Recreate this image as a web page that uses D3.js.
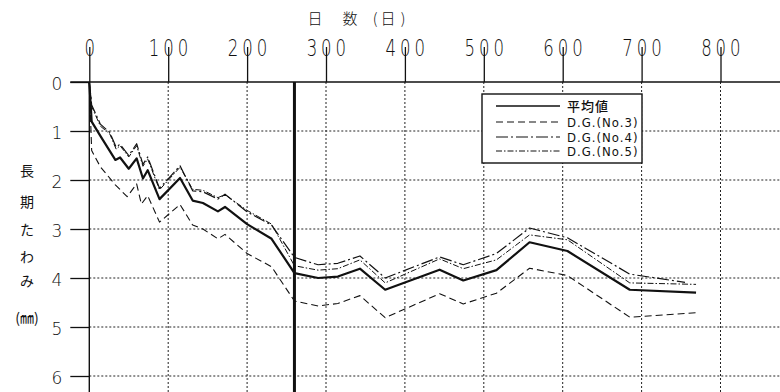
<!DOCTYPE html>
<html>
<head>
<meta charset="utf-8">
<script src="https://cdn.jsdelivr.net/npm/d3@7"></script>
<style>
  html, body { margin: 0; padding: 0; background: #fff; }
  svg { display: block; }
  .num { font-family: "DejaVu Sans", sans-serif; font-weight: 200; fill: #111; }
  .leg { font-family: "DejaVu Sans Condensed", "DejaVu Sans", sans-serif; font-stretch: condensed; fill: #111; }
  .jp { font-family: "Noto Sans CJK JP", "Noto Sans CJK SC", sans-serif; fill: #111; }
</style>
</head>
<body>
<div id="chart"></div>
<script>
// Tick values
const xTicks = [0, 100, 200, 300, 400, 500, 600, 700, 800];
const yTicks = [0, 1, 2, 3, 4, 5, 6];
const markerDay = 260; // thick vertical reference line

// Mean (平均値)
const meanDays = [0, 3, 14, 33, 39, 50, 60, 68, 74, 89, 115, 131, 144, 163, 172, 200, 231, 260, 290, 315, 343, 375, 444, 474, 516, 558, 606, 685, 769];
const meanVals = [0, 0.81, 1.1, 1.59, 1.54, 1.77, 1.56, 1.97, 1.8, 2.39, 1.96, 2.42, 2.47, 2.64, 2.55, 2.9, 3.2, 3.9, 4.0, 3.97, 3.81, 4.24, 3.83, 4.05, 3.84, 3.27, 3.45, 4.24, 4.3];

// D.G.(No.3)
const no3Days = [0, 3, 14, 33, 48, 60, 66, 74, 89, 115, 131, 144, 163, 172, 200, 231, 260, 290, 315, 343, 375, 444, 474, 516, 558, 606, 685, 769];
const no3Vals = [0, 1.4, 1.73, 2.1, 2.34, 2.08, 2.49, 2.32, 2.86, 2.5, 2.92, 3.0, 3.2, 3.11, 3.5, 3.77, 4.47, 4.57, 4.52, 4.36, 4.81, 4.32, 4.53, 4.31, 3.8, 3.95, 4.8, 4.71];

// D.G.(No.4)
const no4Days = [0, 3, 14, 26, 34, 39, 50, 60, 68, 74, 89, 115, 131, 144, 163, 172, 200, 231, 260, 290, 315, 343, 375, 444, 474, 516, 558, 606, 685, 755];
const no4Vals = [0, 0.47, 0.86, 1.03, 1.33, 1.27, 1.5, 1.26, 1.68, 1.53, 2.17, 1.71, 2.22, 2.24, 2.39, 2.29, 2.65, 2.92, 3.58, 3.73, 3.7, 3.55, 4.0, 3.57, 3.73, 3.5, 2.98, 3.18, 3.92, 4.09];

// D.G.(No.5)
const no5Days = [0, 3, 14, 26, 34, 39, 50, 60, 68, 74, 89, 115, 131, 144, 163, 172, 200, 231, 260, 290, 315, 343, 375, 444, 474, 516, 558, 606, 685, 769];
const no5Vals = [0, 0.5, 0.9, 1.06, 1.37, 1.3, 1.53, 1.3, 1.72, 1.57, 2.2, 1.74, 2.19, 2.21, 2.36, 2.3, 2.62, 2.9, 3.75, 3.84, 3.81, 3.63, 4.1, 3.61, 3.81, 3.63, 3.12, 3.22, 4.1, 4.13];

const series = [
  { name: "平均値", days: meanDays, vals: meanVals, width: 2.2, dash: null },
  { name: "D.G.(No.3)", days: no3Days, vals: no3Vals, width: 1.1, dash: "7,4" },
  { name: "D.G.(No.4)", days: no4Days, vals: no4Vals, width: 1.2, dash: "12,3,2,3" },
  { name: "D.G.(No.5)", days: no5Days, vals: no5Vals, width: 1.0, dash: "6,2,1.5,2" }
];

const width = 780, height = 392;
const svg = d3.select("#chart").append("svg")
  .attr("width", width)
  .attr("height", height);

// Scales (y grows downward: deflection)
const x = d3.scaleLinear().domain([0, 800]).range([89.3, 720.5]);
const y = d3.scaleLinear().domain([0, 6]).range([82, 376]);
const plotRight = 780, plotBottom = 392;

// Dotted grid
const grid = svg.append("g");
grid.selectAll("line.vg")
  .data(xTicks.filter(d => d > 0))
  .enter().append("line")
  .attr("x1", d => x(d)).attr("x2", d => x(d))
  .attr("y1", y(0)).attr("y2", plotBottom)
  .attr("stroke", "#222").attr("stroke-width", 1)
  .attr("stroke-dasharray", "2,2");
grid.selectAll("line.hg")
  .data(yTicks.filter(d => d > 0))
  .enter().append("line")
  .attr("x1", x(0)).attr("x2", plotRight)
  .attr("y1", d => y(d)).attr("y2", d => y(d))
  .attr("stroke", "#222").attr("stroke-width", 1)
  .attr("stroke-dasharray", "2,2");

// Top axis (days): narrow, thin digits with wide spacing
const topAxis = svg.append("g")
  .attr("transform", `translate(0,${y(0)})`)
  .call(d3.axisTop(x).tickValues(xTicks).tickSize(35).tickPadding(-9));
topAxis.select(".domain").remove();
topAxis.selectAll(".tick line").attr("stroke", "#111").attr("stroke-width", 1.3);
topAxis.selectAll(".tick text")
  .attr("class", "num")
  .attr("transform", "scale(0.72,1)")
  .attr("dx", "2.6px")
  .style("font-size", "23px")
  .style("letter-spacing", "5.5px");

// Left axis (deflection)
const leftAxis = svg.append("g")
  .attr("transform", `translate(${x(0)},0)`)
  .call(d3.axisLeft(y).tickValues(yTicks).tickSize(19).tickPadding(8).tickFormat(d3.format("d")));
leftAxis.select(".domain").remove();
leftAxis.selectAll(".tick line").attr("stroke", "#111").attr("stroke-width", 1.3);
leftAxis.selectAll(".tick text")
  .attr("class", "num")
  .attr("dy", "0.42em")
  .style("font-size", "17px");

// Solid frame lines: top edge and y axis
svg.append("line")
  .attr("x1", x(0) - 19).attr("x2", plotRight)
  .attr("y1", y(0)).attr("y2", y(0))
  .attr("stroke", "#111").attr("stroke-width", 1.4);
svg.append("line")
  .attr("x1", x(0)).attr("x2", x(0))
  .attr("y1", y(0)).attr("y2", plotBottom)
  .attr("stroke", "#111").attr("stroke-width", 1.4);

// Thick reference line
svg.append("line")
  .attr("x1", x(markerDay)).attr("x2", x(markerDay))
  .attr("y1", y(0)).attr("y2", plotBottom)
  .attr("stroke", "#111").attr("stroke-width", 3);

// Series lines
const line = d3.line()
  .x(d => x(d[0]))
  .y(d => y(d[1]));

series.forEach(s => {
  svg.append("path")
    .datum(d3.zip(s.days, s.vals))
    .attr("fill", "none")
    .attr("stroke", "#111")
    .attr("stroke-width", s.width)
    .attr("stroke-linejoin", "round")
    .attr("stroke-dasharray", s.dash)
    .attr("d", line);
});

// Axis titles
const xTitle = svg.append("text")
  .attr("class", "jp")
  .attr("y", 24)
  .style("font-size", "15px")
  .style("font-weight", 300);
[["日", 315], ["数", 350], ["(", 375], ["日", 388], [")", 403]].forEach(([t, px]) => {
  xTitle.append("tspan").attr("x", px).attr("text-anchor", "middle").text(t);
});

const yTitle = svg.append("text")
  .attr("class", "jp")
  .style("font-size", "14px")
  .attr("text-anchor", "middle");
[["長", 176], ["期", 207], ["た", 235], ["わ", 262], ["み", 286]].forEach(([t, py]) => {
  yTitle.append("tspan").attr("x", 27).attr("y", py).text(t);
});
svg.append("text")
  .attr("class", "jp")
  .attr("x", 27).attr("y", 323)
  .attr("text-anchor", "middle")
  .style("font-size", "14px")
  .text("(㎜)");

// Legend
const legend = svg.append("g").attr("transform", "translate(482,94)");
legend.append("rect")
  .attr("width", 160).attr("height", 69)
  .attr("fill", "#fff")
  .attr("stroke", "#111").attr("stroke-width", 1.4);
const rowY = [12, 28, 43, 57];
series.forEach((s, i) => {
  legend.append("line")
    .attr("x1", 14).attr("x2", 78)
    .attr("y1", rowY[i]).attr("y2", rowY[i])
    .attr("stroke", "#111")
    .attr("stroke-width", i === 0 ? 1.6 : s.width)
    .attr("stroke-dasharray", s.dash);
  legend.append("text")
    .attr("class", i === 0 ? "jp" : "leg")
    .attr("x", 85).attr("y", rowY[i])
    .attr("dy", "0.36em")
    .style("font-size", "13px")
    .style("font-weight", i === 0 ? 500 : 400)
    .style("letter-spacing", "1px")
    .text(s.name);
});
</script>
</body>
</html>
